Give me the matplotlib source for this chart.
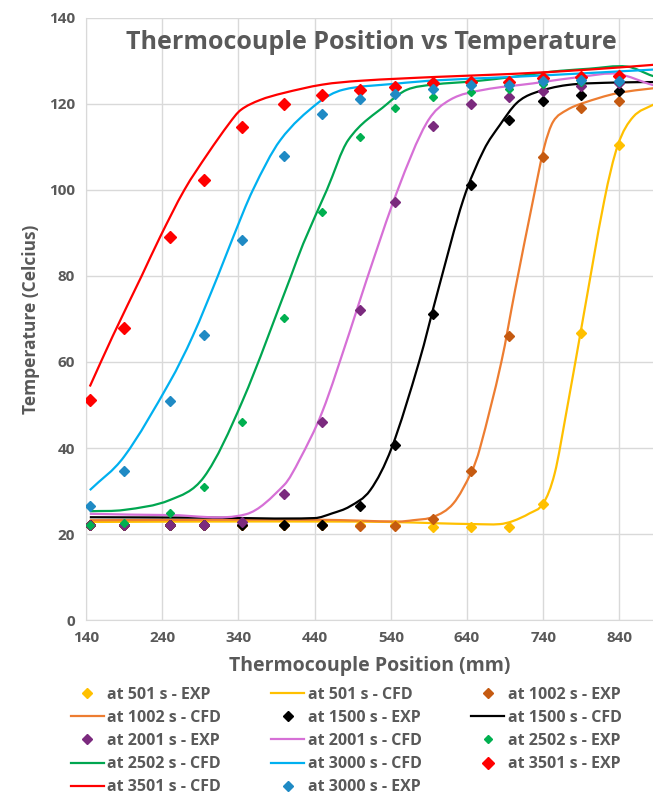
import matplotlib
matplotlib.use("Agg")
import matplotlib.pyplot as plt
from matplotlib.lines import Line2D
from matplotlib.path import Path
from matplotlib.patches import PathPatch

# experimental thermocouple positions (mm)
pos_exp = [145, 190, 250, 295, 345, 400, 450, 500, 545, 595, 645, 695, 740, 790, 840]

exp_501 = [22, 22, 22, 22, 22, 22, 22, 22, 22, 21.7, 21.7, 21.7, 27, 66.7, 110.5]
exp_1002 = [22, 22, 22, 22, 22, 22, 22, 21.9, 21.9, 23.4, 34.7, 66.1, 107.7, 119, 120.8]
exp_1500 = [22, 22, 22, 22, 22, 22, 22.2, 26.4, 40.8, 71.2, 101.2, 116.3, 120.8, 122.2, 123.1]
exp_2001 = [22, 22, 22, 22, 22.8, 29.3, 46, 72.1, 97.3, 114.9, 120, 121.6, 123, 124.2, 124.8]
exp_2502 = [22.1, 22.5, 25, 31, 46, 70.2, 94.8, 112.3, 119, 121.7, 122.9, 123.4, 124.6, 125, 125]
exp_3000 = [26.5, 34.6, 50.9, 66.3, 88.4, 108, 117.7, 121.2, 122.4, 123.6, 124.4, 124.5, 125.3, 125.6, 125.4]
exp_3501 = [51.2, 67.9, 89.1, 102.4, 114.6, 120.1, 122, 123.3, 124, 124.8, 125, 125, 126, 126.3, 126.5]

# CFD curves
cfd_501_x = [145, 300, 450, 540, 600, 650, 683, 700, 722, 740, 755, 770, 790, 820, 838, 858, 884, 900]
cfd_501_y = [22.8, 22.9, 22.9, 22.8, 22.5, 22.3, 22.3, 23, 24.8, 27.1, 34.1, 48, 67.9, 97.5, 110.5, 117, 119.8, 121]
cfd_1002_x = [145, 300, 450, 500, 550, 569, 596, 622, 646, 657, 685, 703, 727, 741, 753, 771, 792, 837, 900]
cfd_1002_y = [23.2, 23.3, 23.3, 23.1, 22.9, 23.2, 24, 27.1, 34.5, 40, 60, 76.7, 98, 109.8, 115.9, 118.6, 120.2, 122.5, 124]
cfd_1500_x = [145, 300, 440, 463, 486, 513, 541, 577, 602, 635, 662, 683, 705, 727, 771, 837, 900]
cfd_1500_y = [23.9, 23.8, 23.7, 24.8, 26.4, 30.2, 40, 60, 76.7, 97.7, 109.3, 115.1, 120.2, 122.5, 124.4, 125, 125.1]
cfd_2001_x = [145, 250, 350, 400, 420, 450, 486, 508, 549, 587, 618, 662, 727, 793, 837, 884, 900]
cfd_2001_y = [24.7, 24.4, 24.6, 31.4, 37.2, 48.4, 67, 79, 100, 115.6, 121, 123.3, 124.8, 126.4, 127, 124.4, 124]
cfd_2502_x = [145, 190, 250, 295, 345, 409, 425, 456, 484, 535, 561, 595, 650, 700, 750, 800, 850, 884, 900]
cfd_2502_y = [25.3, 25.6, 27.9, 33.3, 50.8, 80, 87.5, 100, 111.6, 120, 123.3, 124.5, 125.3, 126.3, 127.5, 128.2, 128.7, 126.5, 126]
cfd_3000_x = [145, 190, 250, 280, 313, 333, 359, 395, 444, 477, 545, 600, 700, 800, 884, 900]
cfd_3000_y = [30.2, 38, 55.4, 66, 80, 89, 100, 111.6, 120.2, 123.3, 124.7, 125.5, 126.3, 127.2, 128, 128.1]
cfd_3501_x = [145, 175, 213, 237, 269, 300, 328, 343, 368, 398, 450, 500, 600, 700, 800, 884, 900]
cfd_3501_y = [54.3, 66, 80, 89, 100, 108.5, 115.5, 118.6, 120.9, 122.5, 124.5, 125.4, 126.3, 127, 128, 129.1, 129.3]

x_ticks = [140, 240, 340, 440, 540, 640, 740, 840]
y_ticks = [0, 20, 40, 60, 80, 100, 120, 140]

txt = '#595959'
plt.rcParams['font.family'] = ['Open Sans', 'DejaVu Sans']
plt.rcParams['font.weight'] = 'bold'

fig = plt.figure(figsize=(6.53, 7.96), dpi=100)
ax = fig.add_axes([0.1317, 0.2211, 0.8683, 0.7563])

handles = {}

def smooth_path(x, y):
    # smoothed line drawn as cubic Hermite / Bezier segments through the points
    n = len(x)
    m = []
    for i in range(n):
        a = max(i - 1, 0)
        b = min(i + 1, n - 1)
        m.append((y[b] - y[a]) / (x[b] - x[a]))
    verts = [(x[0], y[0])]
    codes = [Path.MOVETO]
    for i in range(n - 1):
        h = x[i + 1] - x[i]
        verts += [(x[i] + h / 3, y[i] + m[i] * h / 3),
                  (x[i + 1] - h / 3, y[i + 1] - m[i + 1] * h / 3),
                  (x[i + 1], y[i + 1])]
        codes += [Path.CURVE4] * 3
    return Path(verts, codes)

def exp(y, color, ms, label):
    h, = ax.plot(pos_exp, y, linestyle='none', marker='D', ms=ms, color=color, zorder=3)
    handles[label] = h

def cfd(x, y, color, label):
    ax.add_patch(PathPatch(smooth_path(x, y), fill=False, edgecolor=color, lw=1.6, zorder=2))
    handles[label] = Line2D([], [], color=color, lw=1.6)

exp(exp_501, '#FFC000', 5.2, 'at 501 s - EXP')
cfd(cfd_501_x, cfd_501_y, '#FFC000', 'at 501 s - CFD')
exp(exp_1002, '#C55A11', 5.2, 'at 1002 s - EXP')
cfd(cfd_1002_x, cfd_1002_y, '#ED7D31', 'at 1002 s - CFD')
exp(exp_1500, '#000000', 4.8, 'at 1500 s - EXP')
cfd(cfd_1500_x, cfd_1500_y, '#000000', 'at 1500 s - CFD')
exp(exp_2001, '#7B2A7E', 5.2, 'at 2001 s - EXP')
cfd(cfd_2001_x, cfd_2001_y, '#D670D6', 'at 2001 s - CFD')
exp(exp_2502, '#00B050', 4.2, 'at 2502 s - EXP')
cfd(cfd_2502_x, cfd_2502_y, '#00A650', 'at 2502 s - CFD')
cfd(cfd_3000_x, cfd_3000_y, '#00B0F0', 'at 3000 s - CFD')
exp(exp_3501, '#FF0000', 6.2, 'at 3501 s - EXP')
cfd(cfd_3501_x, cfd_3501_y, '#FF0000', 'at 3501 s - CFD')
exp(exp_3000, '#1F8AC4', 5.2, 'at 3000 s - EXP')

ax.set_xlim(140, 884)
ax.set_ylim(0, 140)
ax.set_xticks(x_ticks)
ax.set_yticks(y_ticks)
ax.grid(True, color='#D9D9D9', lw=1)
ax.set_axisbelow(True)
for s in ['top', 'right']:
    ax.spines[s].set_visible(False)
for s in ['left', 'bottom']:
    ax.spines[s].set_color('#D9D9D9')
ax.tick_params(length=0, labelsize=11, labelcolor=txt, pad=8)
for lab in ax.get_xticklabels() + ax.get_yticklabels():
    lab.set_fontweight('bold')

ax.set_xlabel('Thermocouple Position (mm)', fontsize=14, color=txt, fontweight='bold', labelpad=8)
ax.set_ylabel('Temperature (Celcius)', fontsize=12.5, color=txt, fontweight='bold', labelpad=6)
ax.text(0.503, 0.96, 'Thermocouple Position vs Temperature', transform=ax.transAxes,
        ha='center', va='center', fontsize=18, color=txt, fontweight='bold')

# legend, row-major reading order -> column order for matplotlib
order = ['at 501 s - EXP', 'at 1002 s - CFD', 'at 2001 s - EXP', 'at 2502 s - CFD', 'at 3501 s - CFD',
         'at 501 s - CFD', 'at 1500 s - EXP', 'at 2001 s - CFD', 'at 3000 s - CFD', 'at 3000 s - EXP',
         'at 1002 s - EXP', 'at 1500 s - CFD', 'at 2502 s - EXP', 'at 3501 s - EXP']
leg = fig.legend([handles[k] for k in order], order, ncol=3, loc='upper center',
                 bbox_to_anchor=(0.53, 0.1495), frameon=False, fontsize=11.5,
                 handlelength=2.1, handletextpad=0.2, columnspacing=3.1, labelspacing=0.45,
                 borderaxespad=0.2)
for t in leg.get_texts():
    t.set_color(txt)
    t.set_fontweight('bold')

fig.savefig('out.png', dpi=100)
